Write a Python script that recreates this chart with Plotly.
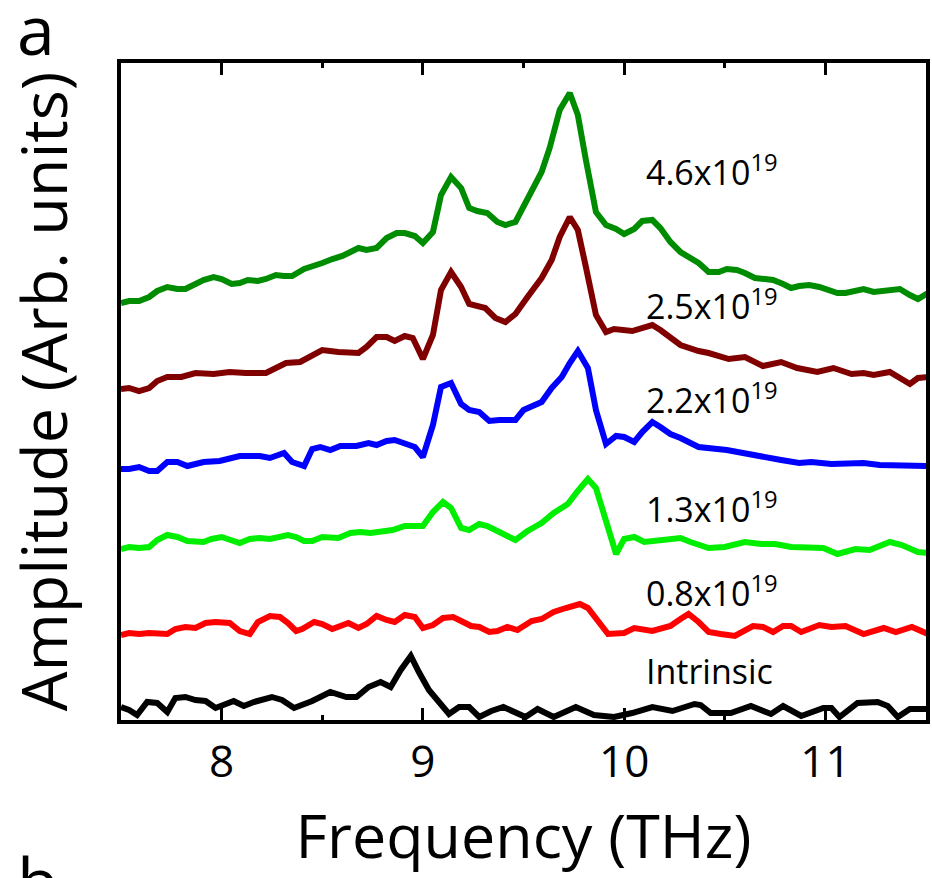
import plotly.graph_objects as go

# ---------------- data ----------------
freq_46 = [7.50, 7.54, 7.59, 7.64, 7.68, 7.73, 7.78, 7.82, 7.86, 7.91, 7.96, 8.00, 8.05, 8.09, 8.13, 8.18,
           8.22, 8.27, 8.31, 8.35, 8.41, 8.45, 8.50, 8.55, 8.60, 8.64, 8.68, 8.72, 8.77, 8.82, 8.87, 8.91,
           8.96, 9.00, 9.05, 9.09, 9.14, 9.19, 9.23, 9.27, 9.32, 9.37, 9.41, 9.46, 9.50, 9.54, 9.59, 9.63,
           9.68, 9.73, 9.77, 9.81, 9.86, 9.91, 9.96, 10.00, 10.05, 10.09, 10.14, 10.18, 10.23, 10.28, 10.33,
           10.37, 10.42, 10.47, 10.51, 10.56, 10.60, 10.65, 10.70, 10.74, 10.79, 10.83, 10.87, 10.92, 10.97,
           11.01, 11.06, 11.10, 11.15, 11.19, 11.24, 11.29, 11.34, 11.37, 11.42, 11.46, 11.51]
amp_46 = [4.17, 4.19, 4.19, 4.23, 4.29, 4.33, 4.31, 4.31, 4.35, 4.40, 4.43, 4.41, 4.36, 4.37, 4.40, 4.39,
          4.41, 4.45, 4.44, 4.44, 4.51, 4.53, 4.57, 4.61, 4.64, 4.68, 4.72, 4.70, 4.72, 4.82, 4.87, 4.87,
          4.84, 4.77, 4.88, 5.25, 5.43, 5.32, 5.12, 5.09, 5.07, 4.98, 4.95, 4.98, 5.13, 5.30, 5.48, 5.72,
          6.10, 6.27, 6.05, 5.60, 5.08, 4.95, 4.91, 4.86, 4.91, 4.99, 5.00, 4.92, 4.78, 4.68, 4.62,
          4.57, 4.48, 4.48, 4.51, 4.50, 4.47, 4.42, 4.41, 4.40, 4.36, 4.32, 4.34, 4.35, 4.33,
          4.30, 4.27, 4.27, 4.29, 4.31, 4.28, 4.29, 4.31, 4.31, 4.25, 4.21, 4.27]

freq_25 = [7.50, 7.54, 7.59, 7.64, 7.68, 7.73, 7.80, 7.87, 7.96, 8.04, 8.12, 8.22, 8.27, 8.32, 8.39, 8.45,
           8.50, 8.58, 8.68, 8.72, 8.77, 8.82, 8.86, 8.91, 8.95, 9.00, 9.05, 9.09, 9.14, 9.19, 9.23, 9.31,
           9.36, 9.41, 9.46, 9.52, 9.59, 9.64, 9.68, 9.73, 9.77, 9.81, 9.86, 9.91, 9.95, 10.04, 10.14,
           10.18, 10.28, 10.37, 10.42, 10.52, 10.60, 10.69, 10.78, 10.86, 10.96, 11.04, 11.13, 11.19,
           11.24, 11.32, 11.37, 11.42, 11.46, 11.51]
amp_25 = [3.31, 3.32, 3.29, 3.32, 3.39, 3.43, 3.43, 3.47, 3.46, 3.48, 3.47, 3.47, 3.52, 3.57, 3.58, 3.65,
          3.70, 3.68, 3.67, 3.73, 3.83, 3.83, 3.79, 3.84, 3.82, 3.61, 3.85, 4.30, 4.48, 4.33, 4.16, 4.12,
          4.02, 3.98, 4.06, 4.23, 4.42, 4.60, 4.83, 5.03, 4.90, 4.53, 4.05, 3.88, 3.91, 3.89, 3.95,
          3.90, 3.75, 3.69, 3.67, 3.61, 3.63, 3.54, 3.58, 3.52, 3.48, 3.52, 3.46, 3.47,
          3.45, 3.48, 3.42, 3.36, 3.42, 3.43]

freq_22 = [7.50, 7.54, 7.59, 7.64, 7.68, 7.73, 7.78, 7.83, 7.91, 7.99, 8.09, 8.19, 8.24, 8.31, 8.35, 8.41,
           8.45, 8.49, 8.54, 8.59, 8.67, 8.73, 8.77, 8.82, 8.86, 8.96, 9.00, 9.05, 9.09, 9.14, 9.19, 9.23,
           9.28, 9.33, 9.38, 9.46, 9.50, 9.59, 9.64, 9.69, 9.73, 9.77, 9.82, 9.86, 9.91, 9.96, 10.00,
           10.05, 10.09, 10.14, 10.18, 10.23, 10.28, 10.37, 10.51, 10.63, 10.73, 10.78, 10.87, 10.93,
           11.03, 11.19, 11.27, 11.37, 11.51]
amp_22 = [2.51, 2.51, 2.53, 2.49, 2.49, 2.58, 2.58, 2.54, 2.58, 2.59, 2.64, 2.64, 2.62, 2.67, 2.58, 2.54,
          2.71, 2.73, 2.70, 2.74, 2.74, 2.77, 2.75, 2.79, 2.80, 2.73, 2.63, 2.95, 3.33, 3.37, 3.16, 3.10,
          3.08, 2.99, 3.00, 3.00, 3.10, 3.18, 3.32, 3.43, 3.57, 3.69, 3.52, 3.10, 2.76, 2.84, 2.83,
          2.78, 2.88, 2.98, 2.93, 2.86, 2.82, 2.73, 2.70, 2.65, 2.61, 2.60, 2.57, 2.58,
          2.56, 2.57, 2.55, 2.55, 2.54]

freq_13 = [7.50, 7.54, 7.59, 7.64, 7.68, 7.73, 7.78, 7.83, 7.91, 7.95, 8.00, 8.05, 8.09, 8.14, 8.19, 8.24,
           8.29, 8.33, 8.37, 8.41, 8.45, 8.50, 8.58, 8.64, 8.69, 8.74, 8.85, 8.91, 9.00, 9.05, 9.10, 9.14,
           9.19, 9.23, 9.28, 9.32, 9.38, 9.46, 9.52, 9.59, 9.65, 9.72, 9.77, 9.82, 9.86, 9.91, 9.96,
           10.00, 10.05, 10.10, 10.18, 10.28, 10.33, 10.42, 10.50, 10.60, 10.68, 10.75, 10.83, 10.93,
           10.99, 11.06, 11.15, 11.22, 11.32, 11.38, 11.46, 11.51]
amp_13 = [1.71, 1.73, 1.72, 1.73, 1.80, 1.85, 1.83, 1.79, 1.78, 1.81, 1.83, 1.80, 1.77, 1.81, 1.82, 1.81,
          1.83, 1.85, 1.83, 1.79, 1.79, 1.83, 1.82, 1.87, 1.88, 1.87, 1.90, 1.94, 1.94, 2.08, 2.18, 2.12,
          1.92, 1.90, 1.96, 1.94, 1.88, 1.80, 1.89, 1.97, 2.07, 2.16, 2.29, 2.41, 2.32, 2.00, 1.66,
          1.81, 1.83, 1.78, 1.80, 1.82, 1.78, 1.72, 1.73, 1.78, 1.76, 1.76, 1.73, 1.73,
          1.72, 1.66, 1.71, 1.70, 1.78, 1.75, 1.68, 1.67]

freq_08 = [7.50, 7.54, 7.59, 7.64, 7.73, 7.77, 7.82, 7.87, 7.92, 7.97, 8.04, 8.09, 8.14, 8.18, 8.24, 8.29,
           8.33, 8.37, 8.40, 8.46, 8.50, 8.55, 8.63, 8.68, 8.72, 8.77, 8.82, 8.86, 8.91, 8.96, 9.00, 9.05,
           9.10, 9.15, 9.19, 9.24, 9.28, 9.33, 9.37, 9.42, 9.47, 9.54, 9.59, 9.65, 9.71, 9.78, 9.82,
           9.87, 9.92, 10.00, 10.05, 10.14, 10.23, 10.28, 10.32, 10.37, 10.42, 10.48, 10.55, 10.64,
           10.69, 10.74, 10.79, 10.83, 10.88, 10.97, 11.03, 11.10, 11.19, 11.29, 11.35, 11.43, 11.51]
amp_08 = [0.85, 0.87, 0.86, 0.87, 0.86, 0.91, 0.93, 0.92, 0.97, 0.98, 0.97, 0.89, 0.86, 0.98, 1.04, 1.03,
          0.97, 0.89, 0.91, 0.98, 0.96, 0.91, 0.97, 0.92, 0.96, 1.04, 1.00, 0.98, 1.05, 1.03, 0.92, 0.95,
          1.02, 1.03, 0.99, 0.94, 0.93, 0.88, 0.89, 0.93, 0.90, 0.99, 1.01, 1.08, 1.12, 1.16, 1.12,
          0.98, 0.86, 0.87, 0.92, 0.89, 0.94, 1.01, 1.06, 0.98, 0.88, 0.86, 0.84, 0.94,
          0.93, 0.88, 0.94, 0.94, 0.88, 0.95, 0.93, 0.94, 0.86, 0.92, 0.88, 0.93, 0.86]

freq_int = [7.50, 7.54, 7.58, 7.63, 7.68, 7.73, 7.77, 7.82, 7.87, 7.92, 7.97, 8.01, 8.06, 8.11, 8.16, 8.25,
            8.30, 8.36, 8.45, 8.54, 8.62, 8.67, 8.73, 8.79, 8.84, 8.89, 8.94, 8.98, 9.03, 9.08, 9.13, 9.18,
            9.23, 9.28, 9.34, 9.40, 9.47, 9.51, 9.57, 9.65, 9.76, 9.85, 9.95, 10.04, 10.14, 10.24, 10.35,
            10.38, 10.43, 10.53, 10.63, 10.73, 10.79, 10.88, 10.99, 11.03, 11.07, 11.16, 11.26, 11.31,
            11.36, 11.42, 11.51]
amp_int = [0.13, 0.10, 0.05, 0.18, 0.17, 0.08, 0.22, 0.23, 0.20, 0.19, 0.12, 0.15, 0.19, 0.14, 0.18, 0.23,
           0.20, 0.12, 0.19, 0.28, 0.23, 0.23, 0.33, 0.38, 0.33, 0.50, 0.64, 0.48, 0.30, 0.18, 0.06, 0.13,
           0.13, 0.03, 0.09, 0.13, 0.07, 0.03, 0.11, 0.03, 0.13, 0.05, 0.03, 0.07, 0.13, 0.09, 0.16,
           0.15, 0.07, 0.07, 0.14, 0.06, 0.14, 0.04, 0.12, 0.12, 0.03, 0.17, 0.18, 0.14,
           0.03, 0.11, 0.11]

series_freqs = [freq_46, freq_25, freq_22, freq_13, freq_08, freq_int]
series_amps = [amp_46, amp_25, amp_22, amp_13, amp_08, amp_int]
series_colors = ["#008c00", "#800000", "#0000ff", "#00ee00", "#ff0000", "#000000"]
label_texts = ["4.6x10<sup>19</sup>", "2.5x10<sup>19</sup>", "2.2x10<sup>19</sup>",
               "1.3x10<sup>19</sup>", "0.8x10<sup>19</sup>", "Intrinsic"]
label_y = [5.50, 4.16, 3.22, 2.13, 1.29, 0.49]
label_x = 10.10

x_ticks = [8, 9, 10, 11]
x_range = [7.5, 11.5]
y_range = [0, 6.57]

FONT = "Open Sans"

fig = go.Figure()
for fx, amp, col in zip(series_freqs, series_amps, series_colors):
    fig.add_trace(go.Scatter(x=fx, y=amp, mode="lines",
                             line=dict(color=col, width=6), showlegend=False,
                             hoverinfo="skip", cliponaxis=False))

for txt, yy in zip(label_texts, label_y):
    fig.add_annotation(x=label_x, y=yy, xref="x", yref="y", text=txt, showarrow=False,
                       xanchor="left", yanchor="middle",
                       font=dict(family=FONT, size=34, color="black"))

fig.add_annotation(x=-0.132, y=1.052, xref="paper", yref="paper", text="a", showarrow=False,
                   xanchor="left", yanchor="middle", font=dict(family=FONT, size=68, color="black"))
fig.add_annotation(x=-0.132, y=-0.17, xref="paper", yref="paper", text="b", showarrow=False,
                   xanchor="left", yanchor="top", font=dict(family=FONT, size=68, color="black"))

fig.update_layout(
    width=932, height=878,
    margin=dict(l=121, r=2, t=63, b=158),
    paper_bgcolor="white", plot_bgcolor="white",
    font=dict(family=FONT, color="black"),
    xaxis=dict(range=x_range, tickvals=x_ticks, ticks="inside", ticklen=12, tickwidth=3,
               tickcolor="black", showline=True, linecolor="black", linewidth=4, mirror="ticks",
               showgrid=False, zeroline=False, tickfont=dict(family=FONT, size=44, color="black"),
               minor=dict(dtick=0.5, tick0=7.5, ticks="inside", ticklen=5, tickwidth=3, tickcolor="black"),
               title=dict(text="Frequency (THz)", font=dict(family=FONT, size=61, color="black"),
                          standoff=28)),
    yaxis=dict(range=y_range, showticklabels=False, ticks="", showline=True, linecolor="black",
               linewidth=4, mirror=True, showgrid=False, zeroline=False,
               title=dict(text="Amplitude (Arb. units)", font=dict(family=FONT, size=63, color="black"),
                          standoff=36)),
)

fig.write_html("out.html")
